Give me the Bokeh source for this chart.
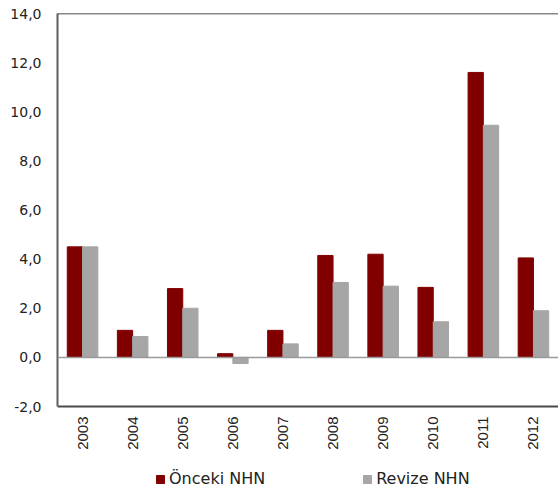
import math
from bokeh.plotting import figure
from bokeh.models import (ColumnDataSource, FactorRange, Range1d, FixedTicker,
                          CustomJSTickFormatter, Span, Legend, LegendItem, BoxAnnotation)
from bokeh.core.properties import value
from bokeh.transform import dodge
from bokeh.embed import file_html
from bokeh.resources import INLINE

years = ["2003", "2004", "2005", "2006", "2007", "2008", "2009", "2010", "2011", "2012"]
onceki = [4.5, 1.1, 2.8, 0.15, 1.1, 4.15, 4.2, 2.85, 11.6, 4.05]
revize = [4.5, 0.85, 2.0, -0.25, 0.55, 3.05, 2.9, 1.45, 9.45, 1.9]
y_ticks = [-2, 0, 2, 4, 6, 8, 10, 12, 14]
y_min, y_max = -2, 14

src = ColumnDataSource(data=dict(years=years, onceki=onceki, revize=revize))

# the frame runs to the bottom of the canvas so the year labels and the
# legend can sit under the -2 line
FRAME_TOP, AXIS_BOTTOM, HEIGHT = 13, 406, 495
span_px = AXIS_BOTTOM - FRAME_TOP
lo = y_max - (HEIGHT - FRAME_TOP) * (y_max - y_min) / span_px

p = figure(x_range=FactorRange(*years, range_padding=0), y_range=Range1d(lo, y_max),
           width=558, height=HEIGHT, output_backend="svg", toolbar_location=None,
           x_axis_location=None,
           min_border_left=57, min_border_right=0, min_border_top=FRAME_TOP,
           min_border_bottom=0)
p.outline_line_color = None
p.grid.grid_line_color = None
p.background_fill_color = "white"
p.border_fill_color = "white"

# thin grey strip along the left page edge
p.add_layout(BoxAnnotation(left=0, right=6, top=0, bottom=HEIGHT,
                           left_units="canvas", right_units="canvas",
                           top_units="canvas", bottom_units="canvas",
                           fill_color="#efefef", fill_alpha=1.0,
                           line_color=None, line_alpha=0))

bw = 0.305
r1 = p.vbar(x=dodge("years", -bw / 2, range=p.x_range), top="onceki", width=bw,
            source=src, fill_color="#800000", line_color="#800000")
r2 = p.vbar(x=dodge("years", bw / 2, range=p.x_range), top="revize", width=bw,
            source=src, fill_color="#a6a6a6", line_color="#a6a6a6")

# zero baseline, bottom axis line and top border
p.add_layout(Span(location=0, dimension="width", line_color="#9a9a9a", line_width=1.5))
p.add_layout(Span(location=y_min, dimension="width", line_color="#4a4a4a", line_width=2))
p.add_layout(Span(location=y_max, dimension="width", line_color="#111111", line_width=1.5))

# year labels under the category axis line
p.text(x="years", y=y_min, text="years", source=src, angle=math.pi / 2,
       text_align="right", text_baseline="middle", y_offset=10,
       text_font=value("Liberation Sans"), text_font_size="15px",
       text_color="#222222")

ya = p.yaxis[0]
ya.bounds = (y_min, y_max)
ya.ticker = FixedTicker(ticks=y_ticks)
ya.formatter = CustomJSTickFormatter(code="return tick.toFixed(1).replace('.', ',');")
ya.major_tick_line_color = None
ya.minor_tick_line_color = None
ya.major_tick_out = 0
ya.major_tick_in = 0
ya.minor_tick_out = 0
ya.axis_line_color = "#5f5f5f"
ya.axis_line_width = 2
ya.major_label_text_font = "DejaVu Sans"
ya.major_label_text_font_size = "14px"
ya.major_label_text_color = "#222222"
ya.major_label_standoff = 16

legend = Legend(items=[LegendItem(label="Önceki NHN", renderers=[r1]),
                       LegendItem(label="Revize NHN", renderers=[r2])],
                orientation="horizontal", location=(98, 7),
                glyph_width=10, glyph_height=10, label_standoff=4, spacing=97,
                padding=0, margin=0, border_line_color=None,
                background_fill_alpha=0, label_text_font="DejaVu Sans",
                label_text_font_size="16px", label_text_color="#222222")
p.add_layout(legend, "center")

open("out.html", "w").write(file_html(p, INLINE))
